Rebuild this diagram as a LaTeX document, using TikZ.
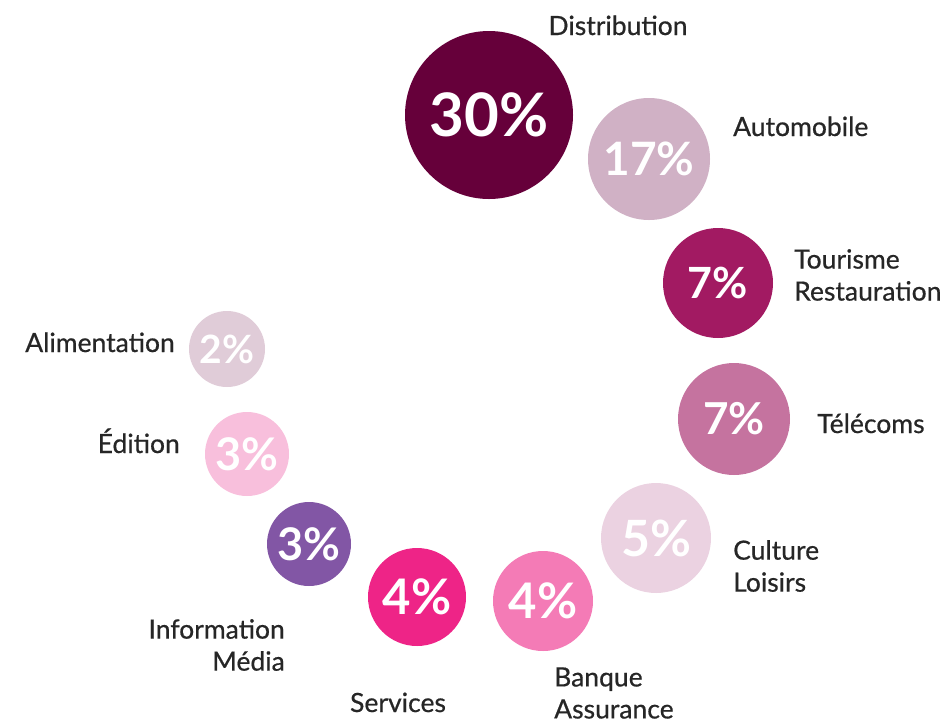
\documentclass[tikz,border=0pt]{standalone}
\usepackage{fontspec}
\setmainfont{Lato}
\newfontfamily\sectorfont[FakeBold=0.6]{Lato}
\usetikzlibrary{positioning}
\definecolor{distrib}{HTML}{66003A}
\definecolor{automob}{HTML}{D0B1C5}
\definecolor{tourism}{HTML}{A21A62}
\definecolor{telecom}{HTML}{C5739F}
\definecolor{culture}{HTML}{EBD2E1}
\definecolor{banque}{HTML}{F47BB6}
\definecolor{service}{HTML}{EE2487}
\definecolor{infomed}{HTML}{8256A5}
\definecolor{edition}{HTML}{F8BFDC}
\definecolor{aliment}{HTML}{E0CCD8}
\definecolor{labelgray}{HTML}{262626}
\tikzset{%
	bubble/.style n args={3}{circle, inner sep=0pt, fill=#1, text=white, minimum size=#2pt, font=\bfseries\fontsize{#3}{#3}\selectfont},
	sector/.style={text=labelgray, inner sep=0pt, font=\sectorfont\fontsize{26.5}{32}\selectfont}}

\begin{document}
\begin{tikzpicture}[x=1pt,y=-1pt]
		\useasboundingbox (0,0) rectangle (950,721);
		% bubbles
		\node[bubble={distrib}{168}{60}] (DIS) at (489,115) {30\%};
		\node[bubble={automob}{122}{46}] (AUT) at (649,159) {17\%};
		\node[bubble={tourism}{110}{43}] (TOU) at (718,283) {7\%};
		\node[bubble={telecom}{112}{44}] (TEL) at (734,419) {7\%};
		\node[bubble={culture}{110}{50}] (CUL) at (656,538) {5\%};
		\node[bubble={banque}{100}{49}] (BAN) at (543,601) {4\%};
		\node[bubble={service}{98}{49}] (SER) at (417,597) {4\%};
		\node[bubble={infomed}{84}{45}] (INF) at (309,544) {3\%};
		\node[bubble={edition}{84}{45}] (EDI) at (247,454) {3\%};
		\node[bubble={aliment}{76}{39}] (ALI) at (227,349) {2\%};
		
		% labels
		\node[sector, anchor=base] (DISlab) at (618,35) {Distribution};
		\node[sector, anchor=base west] (AUTlab) at (733,136) {Automobile};
		\node[sector, anchor=west, align=left] (TOUlab) at (794,275) {Tourisme\\Restauration};
		\node[sector, anchor=base west] (TELlab) at (817,433) {Télécoms};
		\node[sector, anchor=west, align=left] (CULlab) at (733,566) {Culture\\Loisirs};
		\node[sector, anchor=west, align=left] (BANlab) at (554,693) {Banque\\Assurance};
		\node[sector, anchor=base] (SERlab) at (398,712) {Services};
		\node[sector, anchor=east, align=right] (INFlab) at (285,645) {Information\\Média};
		\node[sector, anchor=base east] (EDIlab) at (180,453) {Édition};
		\node[sector, anchor=base east] (ALIlab) at (175,352) {Alimentation};
	\end{tikzpicture}
\end{document}
